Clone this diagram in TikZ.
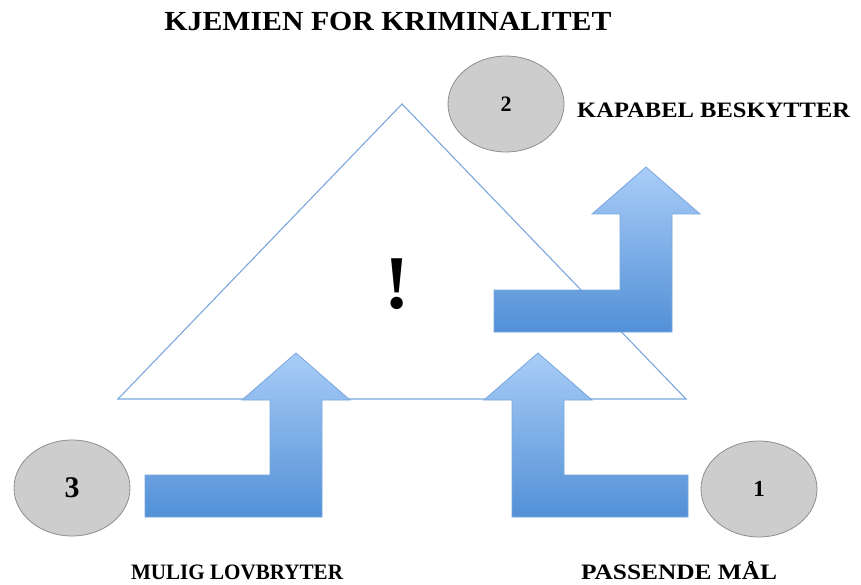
\documentclass[tikz,border=0pt]{standalone}
\usepackage{fontspec}
\setmainfont{Liberation Serif}
\usepackage{graphicx}
\usetikzlibrary{shapes.geometric}
\definecolor{edgeblue}{HTML}{7AA7DD}
\definecolor{arrowtop}{HTML}{A9CDF7}
\definecolor{arrowbot}{HTML}{5290D7}
\definecolor{discfill}{HTML}{CDCDCD}
\definecolor{discedge}{HTML}{8E8E8E}
\tikzset{
  bentarrow/.style={draw=edgeblue, line width=0.8pt, top color=arrowtop, bottom color=arrowbot, line join=miter},
  disc/.style={ellipse, draw=discedge, line width=0.8pt, fill=discfill, minimum width=116pt, minimum height=96pt, inner sep=0pt, font=\bfseries},
  lbl/.style={anchor=base, inner sep=0pt, font=\bfseries\fontsize{22}{26}\selectfont},
}
\begin{document}
\begin{tikzpicture}[x=1pt, y=-1pt]
\useasboundingbox (0,0) rectangle (861,585);

% title
\node[anchor=base, inner sep=0pt, font=\bfseries\fontsize{27.6}{32}\selectfont] (title) at (388,31)
  {\resizebox{447pt}{\height}{KJEMIEN FOR KRIMINALITET}};

% crime triangle
\coordinate (apex) at (402,104);
\coordinate (bl) at (118,399);
\coordinate (br) at (686,399);
\draw[edgeblue, line width=1.1pt, line join=miter] (apex) -- (bl) -- (br) -- cycle;

\node[anchor=base, inner sep=0pt, font=\bfseries\fontsize{76}{80}\selectfont] (bang) at (397,308) {!};

% bent arrows
\draw[bentarrow] (494,290) -- (620,290) -- (620,214) -- (592,214) -- (646,167) -- (700,214) -- (672,214) -- (672,332) -- (494,332) -- cycle;
\draw[bentarrow] (145,475) -- (270,475) -- (270,400) -- (242,400) -- (296,353) -- (350,400) -- (322,400) -- (322,517) -- (145,517) -- cycle;
\draw[bentarrow] (688,475) -- (564,475) -- (564,400) -- (592,400) -- (538,353) -- (484,400) -- (512,400) -- (512,517) -- (688,517) -- cycle;

% numbered discs
\node[disc, font=\bfseries\fontsize{22}{26}\selectfont] (d2) at (506,104) {2};
\node[disc, font=\bfseries\fontsize{30}{34}\selectfont] (d3) at (72,488) {3};
\node[disc, font=\bfseries\fontsize{23}{26}\selectfont] (d1) at (759,489) {1};

% labels
\node[lbl, anchor=base west] (lkap) at (577,118) {\resizebox{273pt}{\height}{KAPABEL BESKYTTER}};
\node[lbl] (lmul) at (237,579) {\resizebox{212pt}{\height}{MULIG LOVBRYTER}};
\node[lbl] (lpas) at (679,579) {\resizebox{196pt}{\height}{PASSENDE MÅL}};
\end{tikzpicture}
\end{document}
